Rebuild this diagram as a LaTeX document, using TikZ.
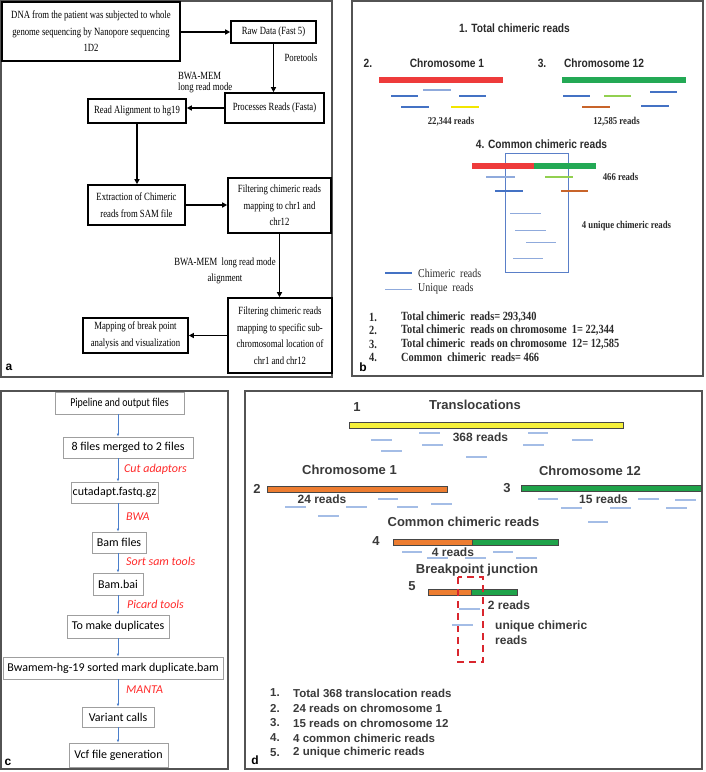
\documentclass[tikz,border=0pt]{standalone}
\usepackage{fontspec}
\setmainfont{Liberation Serif}
\newfontfamily\fser{Liberation Serif}[FakeStretch=0.83]
\newfontfamily\fsera{Liberation Serif}[FakeStretch=0.79]
\newfontfamily\fsan{Liberation Sans}[FakeStretch=0.85]
\newfontfamily\fsd{Liberation Sans}
\newfontfamily\fcal{Carlito}
\newfontfamily\fcalc{Carlito}[FakeStretch=0.83]
\usetikzlibrary{arrows.meta}
\definecolor{cdblue}{HTML}{4472C4}
\definecolor{clblue}{HTML}{8FAADC}
\definecolor{cred}{HTML}{EE3B3B}
\definecolor{cgreen}{HTML}{23A955}
\definecolor{cyellow}{HTML}{F2E600}
\definecolor{corange}{HTML}{C8642A}
\definecolor{clgreen}{HTML}{92D050}
\definecolor{dorange}{HTML}{ED7D31}
\definecolor{dgreen}{HTML}{1FA34A}
\definecolor{dyellow}{HTML}{F5F03A}
\definecolor{ddash}{HTML}{A4BDE6}
\definecolor{dred}{HTML}{D9262E}
\definecolor{ctext}{HTML}{2A2A2A}
\definecolor{dtext}{HTML}{3A3A3A}
\definecolor{cred2}{HTML}{FF2A2A}
\definecolor{cboxblue}{HTML}{5A7FC8}
\definecolor{carrow}{HTML}{4A7ECB}
\tikzset{
  panel/.style={draw=gray!65!black, line width=1.6pt},
  abox/.style={draw=black, line width=1.6pt, font=\fsera\fontsize{11}{16.5}\selectfont, align=center, inner sep=0pt},
  aarr/.style={draw=black, line width=1.6pt, -{Triangle[length=5pt,width=5pt]}},
  albl/.style={font=\fsera\fontsize{11}{16}\selectfont, inner sep=0pt},
  cbox/.style={draw=gray!75, line width=0.7pt, font=\fcal\fontsize{12}{14}\selectfont, inner sep=0pt},
  carr/.style={draw=carrow, line width=0.6pt, -{Latex[length=3pt,width=2.5pt]}},
  clbl/.style={font=\fcal\itshape\fontsize{12}{14}\selectfont, text=cred2, inner sep=0pt, anchor=west},
  chim/.style={draw=cdblue, line width=2.5pt},
  uniq/.style={draw=clblue, line width=1pt},
  barb/.style={line width=6pt},
  bt/.style={font=\fsan\bfseries\fontsize{12}{14}\selectfont, text=ctext, inner sep=0pt},
  bs/.style={font=\fser\bfseries\fontsize{10.5}{12}\selectfont, text=ctext, inner sep=0pt},
  bleg/.style={font=\fser\fontsize{12}{14}\selectfont, text=ctext, inner sep=0pt, anchor=west},
  blist/.style={font=\fser\bfseries\fontsize{12.5}{14}\selectfont, text=ctext, inner sep=0pt, anchor=west},
  dT/.style={font=\fsd\bfseries\fontsize{13}{15}\selectfont, text=dtext, inner sep=0pt},
  dt/.style={font=\fsd\bfseries\fontsize{12}{15}\selectfont, text=dtext, inner sep=0pt},
  dlist/.style={font=\fsd\bfseries\fontsize{11.5}{14}\selectfont, text=dtext, inner sep=0pt, anchor=west},
  dbar/.style={draw=gray!55!black, line width=0.6pt},
  ddsh/.style={draw=ddash, line width=1.2pt},
  plab/.style={font=\fsd\bfseries\fontsize{12}{14}\selectfont, inner sep=0pt},
}
\begin{document}
\begin{tikzpicture}[x=1pt,y=-1pt]
\useasboundingbox (0,0) rectangle (705,772);
\fill[white] (0,0) rectangle (705,772);
% panel frames
\draw[panel] (1,1) rectangle (332,377);
\draw[panel] (352,1) rectangle (703,376);
\draw[panel] (1,391) rectangle (228,769);
\draw[panel] (245,391) rectangle (702,769);

% ---------------- panel a ----------------
\node[abox, minimum width=178pt, minimum height=59pt, line width=2pt] (dna) at (91,31.5) {DNA from the patient was subjected to whole\\genome sequencing by Nanopore sequencing\\1D2};
\node[abox, minimum width=85pt, minimum height=22pt] (raw) at (273.5,32) {Raw Data (Fast 5)};
\node[abox, minimum width=99pt, minimum height=30pt] (proc) at (274.5,108) {Processes Reads (Fasta)};
\node[abox, minimum width=98pt, minimum height=24pt] (aln) at (137,111) {Read Alignment to hg19};
\node[abox, minimum width=97pt, minimum height=40pt] (ext) at (136.5,205) {Extraction of Chimeric\\reads from SAM file};
\node[abox, minimum width=103pt, minimum height=55pt] (flt1) at (279.5,205.5) {Filtering chimeric reads\\mapping to chr1 and\\chr12};
\node[abox, minimum width=104pt, minimum height=75pt] (flt2) at (280,335.5) {Filtering chimeric reads\\mapping to specific sub-\\chromosomal location of\\chr1 and chr12};
\node[abox, minimum width=105pt, minimum height=35pt] (map) at (135.5,335.5) {Mapping of break point\\analysis and visualization};
\draw[aarr] (raw.west -| dna.east) -- (raw.west);
\draw[aarr] (raw.south) -- (raw.south |- proc.north);
\draw[aarr] (proc.west) -- (proc.west -| aln.east);
\draw[aarr] (aln.south) -- (aln.south |- ext.north);
\draw[aarr] (ext.east) -- (ext.east -| flt1.west);
\draw[aarr] (flt1.south) -- (flt1.south |- flt2.north);
\draw[aarr] (flt2.west) -- (flt2.west -| map.east);
\node[albl] (lpore) at (301,58) {Poretools};
\node[albl, anchor=west] (lbwa1) at (178,76) {BWA-MEM};
\node[albl, anchor=west] (lbwa2) at (178,88) {long read mode};
\node[albl] (lbwa3) at (225,263) {BWA-MEM\ \ long read mode};
\node[albl] (lbwa4) at (225,279) {alignment};
\node[plab] (pa) at (9,367) {a};

% ---------------- panel b ----------------
\node[bt] (b1) at (514.5,28) {1. Total chimeric reads};
\node[bt] (b2) at (368,63) {2.};
\node[bt] (bc1) at (447,63) {Chromosome 1};
\node[bt] (b3) at (542,63) {3.};
\node[bt] (bc12) at (604,63) {Chromosome 12};
\draw[barb, cred] (379,80) -- (503,80);
\draw[barb, cgreen] (562,80) -- (686,80);
\draw[chim] (391,96) -- (418,96);
\draw[chim, draw=clblue] (423,90) -- (451,90);
\draw[chim] (459,96) -- (486,96);
\draw[chim] (401,107) -- (429,107);
\draw[chim, draw=cyellow] (451,107) -- (479,107);
\draw[chim] (563,96) -- (590,96);
\draw[chim, draw=clgreen] (604,96) -- (631,96);
\draw[chim] (650,92) -- (677,92);
\draw[chim, draw=corange] (582,107) -- (610,107);
\draw[chim] (641,106) -- (669,106);
\node[bs] (b22) at (451,122) {22,344 reads};
\node[bs] (b125) at (616.5,122) {12,585 reads};
\node[bt] (b4) at (541.5,144) {4. Common chimeric reads};
\draw[draw=cboxblue, line width=0.8pt] (505,153) rectangle (568,272);
\draw[barb, cred] (472,166) -- (534,166);
\draw[barb, cgreen] (534,166) -- (596,166);
\draw[chim, draw=clblue] (486,177) -- (515,177);
\draw[chim, draw=clgreen] (545,177) -- (573,177);
\draw[chim] (495,191) -- (523,191);
\draw[chim, draw=corange] (561,191) -- (588,191);
\node[bs] (b466) at (620.5,177) {466 reads};
\draw[uniq] (510,213) -- (541,213);
\draw[uniq] (515,230) -- (546,230);
\draw[uniq] (526,242) -- (556,242);
\draw[uniq] (513,258) -- (543,258);
\node[bs] (bu) at (626.5,226) {4 unique chimeric reads};
\draw[chim] (385,273) -- (412,273);
\node[bleg] (lg1) at (418,273) {Chimeric\ \ reads};
\draw[uniq] (385,289) -- (412,289);
\node[bleg] (lg2) at (418,289) {Unique\ \ reads};
\node[blist] (bn1) at (369,317) {1.};
\node[blist] (bn2) at (369,330.5) {2.};
\node[blist] (bn3) at (369,344) {3.};
\node[blist] (bn4) at (369,357.5) {4.};
\node[blist] (bl1) at (401,317) {Total chimeric\ \ reads= 293,340};
\node[blist] (bl2) at (401,330.5) {Total chimeric\ \ reads on chromosome\ \ 1= 22,344};
\node[blist] (bl3) at (401,344) {Total chimeric\ \ reads on chromosome\ \ 12= 12,585};
\node[blist] (bl4) at (401,357.5) {Common\ \ chimeric\ \ reads= 466};
\node[plab] (pb) at (363,367) {b};

% ---------------- panel c ----------------
\node[cbox, minimum width=129pt, minimum height=22pt, font=\fcalc\fontsize{12}{14}\selectfont] (pipe) at (119.5,403) {Pipeline and output files};
\node[cbox, minimum width=130pt, minimum height=21pt] (merge) at (128,447.5) {8 files merged to 2 files};
\node[cbox, minimum width=87pt, minimum height=21pt] (cut) at (114.5,492.5) {cutadapt.fastq.gz};
\node[cbox, minimum width=54pt, minimum height=21pt] (bam) at (119,542.5) {Bam files};
\node[cbox, minimum width=50pt, minimum height=22pt] (bai) at (118,584) {Bam.bai};
\node[cbox, minimum width=102pt, minimum height=23pt] (dup) at (118,626.5) {To make duplicates};
\node[cbox, minimum width=220pt, minimum height=22pt] (bwm) at (113,668) {Bwamem-hg-19 sorted mark duplicate.bam};
\node[cbox, minimum width=72pt, minimum height=20pt] (var) at (118,717) {Variant calls};
\node[cbox, minimum width=99pt, minimum height=24pt] (vcf) at (118.5,755) {Vcf file generation};
\draw[carr] (pipe.south -| bai.center) -- (merge.north -| bai.center);
\draw[carr] (merge.south -| bai.center) -- (cut.north -| bai.center);
\draw[carr] (cut.south -| bai.center) -- (bam.north -| bai.center);
\draw[carr] (bam.south -| bai.center) -- (bai.north);
\draw[carr] (bai.south) -- (dup.north);
\draw[carr] (dup.south) -- (bwm.north -| dup.south);
\draw[carr] (bwm.south -| var.north) -- (var.north);
\draw[carr] (var.south) -- (vcf.north -| var.south);
\node[clbl] (lcut) at (124,469) {Cut adaptors};
\node[clbl] (lbwa) at (126,517) {BWA};
\node[clbl] (lsort) at (126,561) {Sort sam tools};
\node[clbl] (lpic) at (127,604) {Picard tools};
\node[clbl] (lman) at (126,690) {MANTA};
\node[plab] (pc) at (8,762) {c};

% ---------------- panel d ----------------
\node[dT] (d1) at (357,407) {1};
\node[dT] (dtr) at (475,405) {Translocations};
\filldraw[dbar, fill=dyellow] (349,422) rectangle (623,428);
\draw[ddsh] (371,440) -- (392,440);
\draw[ddsh] (419,433) -- (440,433);
\draw[ddsh] (422,445) -- (443,445);
\draw[ddsh] (381,451) -- (402,451);
\draw[ddsh] (466,457) -- (487,457);
\draw[ddsh] (528,433) -- (548,433);
\draw[ddsh] (523,445) -- (544,445);
\draw[ddsh] (572,440) -- (593,440);
\node[dt] (d368) at (480.5,437) {368 reads};
\node[dT] (dch1) at (349.5,470) {Chromosome 1};
\node[dT] (d2) at (257,489) {2};
\filldraw[dbar, fill=dorange] (267,486) rectangle (447,492);
\draw[ddsh] (285,507) -- (306,507);
\draw[ddsh] (346,507) -- (367,507);
\draw[ddsh] (378,499) -- (398,499);
\draw[ddsh] (397,507) -- (418,507);
\draw[ddsh] (431,504) -- (452,504);
\draw[ddsh] (318,516) -- (339,516);
\node[dt] (d24) at (322,499) {24 reads};
\node[dT] (d3) at (507,488) {3};
\node[dT] (dch12) at (590,471) {Chromosome 12};
\filldraw[dbar, fill=dgreen] (521,485) rectangle (701,491);
\draw[ddsh] (538,499) -- (558,499);
\draw[ddsh] (561,508) -- (582,508);
\draw[ddsh] (610,508) -- (631,508);
\draw[ddsh] (638,499) -- (659,499);
\draw[ddsh] (675,500) -- (696,500);
\draw[ddsh] (666,508) -- (687,508);
\draw[ddsh] (588,522) -- (608,522);
\node[dt] (d15) at (603.5,499) {15 reads};
\node[dT] (dcom) at (463.5,522) {Common chimeric reads};
\node[dT] (d4) at (376,541) {4};
\filldraw[dbar, fill=dorange] (393,539) rectangle (472,545);
\filldraw[dbar, fill=dgreen] (472,539) rectangle (558,545);
\draw[ddsh] (402,552) -- (422,552);
\draw[ddsh] (427,558) -- (448,558);
\draw[ddsh] (465,558) -- (486,558);
\draw[ddsh] (493,552) -- (513,552);
\draw[ddsh] (516,558) -- (537,558);
\node[dt] (d4r) at (453,552) {4 reads};
\node[dT] (dbj) at (477,570) {Breakpoint junction};
\node[dT] (d5) at (412,586) {5};
\filldraw[dbar, fill=dorange] (428,589) rectangle (471,595);
\filldraw[dbar, fill=dgreen] (471,589) rectangle (517,595);
\draw[dred, line width=2pt, dash pattern=on 7pt off 5pt] (458,577) rectangle (483,662);
\draw[ddsh] (459,609) -- (480,609);
\draw[ddsh] (452,625) -- (473,625);
\node[dt] (d2r) at (509,605) {2 reads};
\node[dt, anchor=west, align=left, font=\fsd\bfseries\fontsize{12}{15}\selectfont] (duq) at (495,632.5) {unique chimeric\\reads};
\node[dlist] (dn1) at (270,693) {1.};
\node[dlist] (dn2) at (270,708) {2.};
\node[dlist] (dn3) at (270,723) {3.};
\node[dlist] (dn4) at (270,738) {4.};
\node[dlist] (dn5) at (270,753) {5.};
\node[dlist] (dl1) at (293,693) {Total 368 translocation reads};
\node[dlist] (dl2) at (293,708) {24 reads on chromosome 1};
\node[dlist] (dl3) at (293,723) {15 reads on chromosome 12};
\node[dlist] (dl4) at (293,738) {4 common chimeric reads};
\node[dlist] (dl5) at (293,753) {2 unique chimeric reads};
\node[plab] (pd) at (255,760) {d};
\end{tikzpicture}
\end{document}
